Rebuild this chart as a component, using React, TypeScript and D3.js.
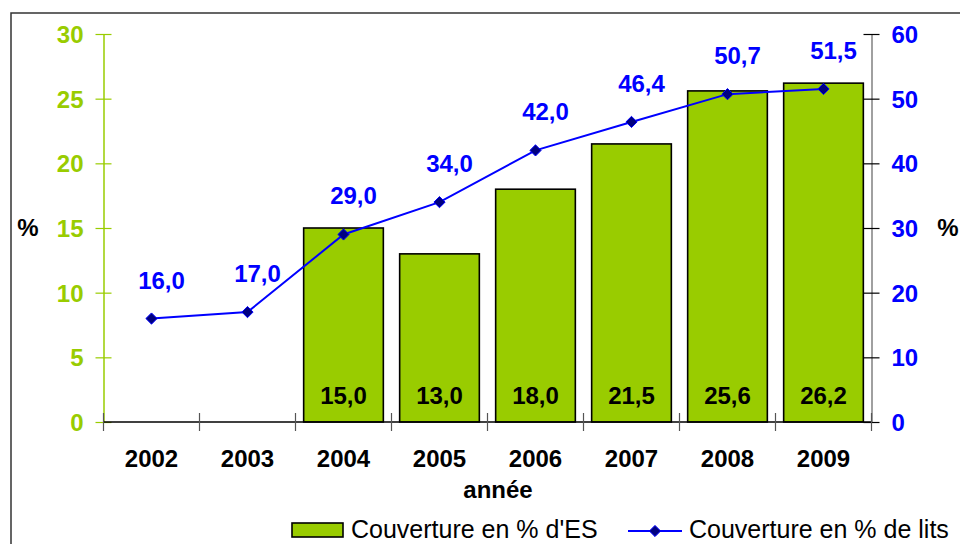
import * as d3 from 'd3';
import React, { useRef, useEffect } from 'react';

// chart data
const years = ['2002', '2003', '2004', '2005', '2006', '2007', '2008', '2009'];
const esCoverage: (number | null)[] = [null, null, 15.0, 13.0, 18.0, 21.5, 25.6, 26.2];
const bedCoverage = [16.0, 17.0, 29.0, 34.0, 42.0, 46.4, 50.7, 51.5];
const leftTicks = [0, 5, 10, 15, 20, 25, 30];
const rightTicks = [0, 10, 20, 30, 40, 50, 60];

const GREEN = '#99CC00';
const BLUE = '#0000FF';
const NAVY = '#000080';
const FONT = '"Liberation Sans", Arial, sans-serif';
const FS = 24;

const fr = d3.formatLocale({ decimal: ',', thousands: ' ', grouping: [3], currency: ['', ' €'] });
const fmt = fr.format('.1f');

function App() {
  const svgRef = useRef<SVGSVGElement>(null);

  const W = 960, H = 544;
  const plot = { left: 103.5, right: 871.5, top: 34, bottom: 422 };

  useEffect(() => {
    const svg = d3.select(svgRef.current);
    svg.selectAll('*').remove();

    const x = d3.scaleBand().domain(years).range([plot.left, plot.right])
      .paddingInner(0.17).paddingOuter(0.085);
    const yL = d3.scaleLinear([0, 30], [plot.bottom, plot.top]);
    const yR = d3.scaleLinear([0, 60], [plot.bottom, plot.top]);
    const step = x.step();

    // outer frame
    svg.append('rect')
      .attr('x', 11).attr('y', 13).attr('width', 1000).attr('height', 600)
      .attr('fill', 'white').attr('stroke', '#333').attr('stroke-width', 1.5);

    // bars
    const bars = years.map((y, i) => ({ y, v: esCoverage[i] })).filter(d => d.v != null);
    svg.append('g').selectAll('rect').data(bars).join('rect')
      .attr('x', d => x(d.y)!)
      .attr('y', d => yL(d.v as number))
      .attr('width', x.bandwidth())
      .attr('height', d => plot.bottom - yL(d.v as number))
      .attr('fill', GREEN).attr('stroke', '#000').attr('stroke-width', 1.6);

    svg.append('g').selectAll('text').data(bars).join('text')
      .attr('x', d => x(d.y)! + x.bandwidth() / 2)
      .attr('y', 404)
      .attr('text-anchor', 'middle')
      .attr('font-family', FONT).attr('font-weight', 'bold').attr('font-size', FS)
      .attr('fill', '#000')
      .text(d => fmt(d.v as number));

    // left axis (green)
    const gl = svg.append('g').attr('transform', `translate(${plot.left},0)`)
      .call(d3.axisLeft(yL).tickValues(leftTicks).tickSizeInner(8).tickSizeOuter(0).tickPadding(12));
    gl.select('.domain').attr('stroke', GREEN).attr('stroke-width', 1.5);
    gl.selectAll('.tick line').attr('x1', -8).attr('x2', 8).attr('stroke', GREEN).attr('stroke-width', 1.2);
    gl.selectAll('.tick text').attr('fill', GREEN).attr('font-family', FONT)
      .attr('font-weight', 'bold').attr('font-size', FS).attr('dy', '0.36em');

    // right axis (blue labels)
    const gr = svg.append('g').attr('transform', `translate(${plot.right},0)`)
      .call(d3.axisRight(yR).tickValues(rightTicks).tickSizeInner(8).tickSizeOuter(0).tickPadding(12));
    gr.select('.domain').attr('stroke', '#808080').attr('stroke-width', 1.5);
    gr.selectAll('.tick line').attr('x1', -8).attr('x2', 8).attr('stroke', '#000').attr('stroke-width', 1.2);
    gr.selectAll('.tick text').attr('fill', BLUE).attr('font-family', FONT)
      .attr('font-weight', 'bold').attr('font-size', FS).attr('dy', '0.36em');

    // category axis
    const gx = svg.append('g');
    gx.append('line')
      .attr('x1', plot.left).attr('x2', plot.right)
      .attr('y1', plot.bottom).attr('y2', plot.bottom)
      .attr('stroke', '#000').attr('stroke-width', 1.5);
    const bounds = years.map(y => x(y)! - (step - x.bandwidth()) / 2).concat([plot.right]);
    gx.selectAll('line.t').data(bounds).join('line').attr('class', 't')
      .attr('x1', d => d).attr('x2', d => d)
      .attr('y1', plot.bottom - 9).attr('y2', plot.bottom + 9)
      .attr('stroke', '#555').attr('stroke-width', 1.2);
    gx.selectAll('text').data(years).join('text')
      .attr('x', d => x(d)! + x.bandwidth() / 2)
      .attr('y', 467)
      .attr('text-anchor', 'middle')
      .attr('font-family', FONT).attr('font-weight', 'bold').attr('font-size', FS)
      .text(d => d);

    // axis titles
    const title = (tx: number, ty: number, t: string) => svg.append('text')
      .attr('x', tx).attr('y', ty).attr('text-anchor', 'middle')
      .attr('font-family', FONT).attr('font-weight', 'bold').attr('font-size', FS)
      .text(t);
    title(498, 498, 'année');
    title(28, 236, '%');
    title(948, 236, '%');

    // line series
    const pts = years.map((y, i) => ({ y, v: bedCoverage[i] }));
    const cx = (d: { y: string }) => x(d.y)! + x.bandwidth() / 2;
    const line = d3.line<{ y: string; v: number }>().x(cx).y(d => yR(d.v));
    svg.append('path').datum(pts)
      .attr('d', line).attr('fill', 'none').attr('stroke', BLUE).attr('stroke-width', 2);

    const diamond = d3.symbol().type(d3.symbolDiamond2).size(80);
    svg.append('g').selectAll('path').data(pts).join('path')
      .attr('d', diamond)
      .attr('transform', d => `translate(${cx(d)},${yR(d.v)})`)
      .attr('fill', NAVY).attr('stroke', BLUE).attr('stroke-width', 1);

    svg.append('g').selectAll('text').data(pts).join('text')
      .attr('x', d => cx(d) + 10)
      .attr('y', d => yR(d.v) - 30)
      .attr('text-anchor', 'middle')
      .attr('font-family', FONT).attr('font-weight', 'bold').attr('font-size', FS)
      .attr('fill', BLUE)
      .text(d => fmt(d.v));

    // legend
    const lg = svg.append('g');
    lg.append('rect').attr('x', 292).attr('y', 523).attr('width', 51).attr('height', 14)
      .attr('fill', GREEN).attr('stroke', '#000').attr('stroke-width', 1.6);
    lg.append('text').attr('x', 351).attr('y', 538)
      .attr('font-family', FONT).attr('font-size', 25).text("Couverture en % d'ES");
    lg.append('line').attr('x1', 628).attr('x2', 682).attr('y1', 531).attr('y2', 531)
      .attr('stroke', BLUE).attr('stroke-width', 2);
    lg.append('path').attr('d', diamond)
      .attr('transform', 'translate(655,531)')
      .attr('fill', NAVY).attr('stroke', BLUE).attr('stroke-width', 1);
    lg.append('text').attr('x', 689).attr('y', 538)
      .attr('font-family', FONT).attr('font-size', 25).text('Couverture en % de lits');
  });

  return (
    <svg ref={svgRef} width={W} height={H}
      style={{ position: 'absolute', left: 0, top: 0, display: 'block', background: 'white' }} />
  );
}

export default App;
